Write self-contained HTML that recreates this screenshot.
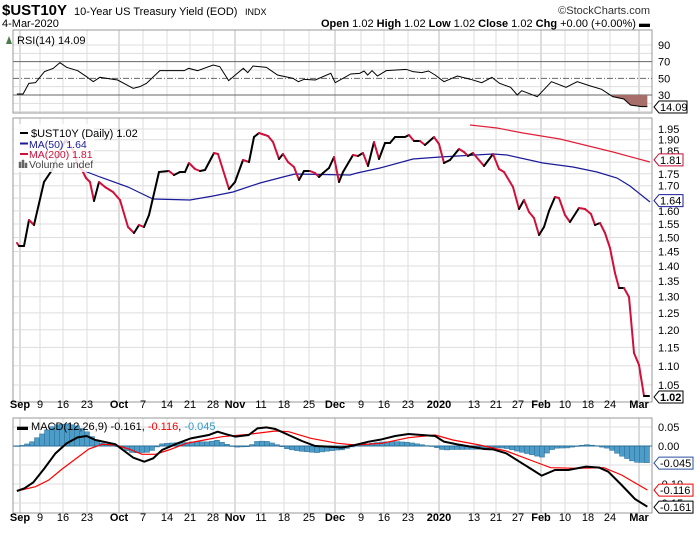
<!DOCTYPE html>
<html><head><meta charset="utf-8"><style>
body{margin:0;background:#fff;}
svg text{font-family:"Liberation Sans",sans-serif;}
</style></head><body>
<svg id="s" width="700" height="530" xmlns="http://www.w3.org/2000/svg">
<rect width="700" height="530" fill="#fff"/>
<g id="grid"></g>
<g id="content"></g>
<text x="2" y="15" font-size="15" font-weight="bold">$UST10Y</text>
<text x="74" y="15" font-size="11">10-Year US Treasury Yield (EOD)</text>
<text x="245" y="15" font-size="9">INDX</text>
<text x="650" y="14" font-size="11" text-anchor="end" fill="#333">©StockCharts.com</text>
<text x="2" y="27" font-size="11">4-Mar-2020</text>
<text x="650" y="27" font-size="11" text-anchor="end"><tspan font-weight="bold">Open</tspan> 1.02 <tspan font-weight="bold">High</tspan> 1.02 <tspan font-weight="bold">Low</tspan> 1.02 <tspan font-weight="bold">Close</tspan> 1.02 <tspan font-weight="bold">Chg</tspan> +0.00 (+0.00%) ▬</text>
</svg>
<script>
const NS="http://www.w3.org/2000/svg";
const G=document.getElementById('grid'),C=document.getElementById('content');
function el(p,t,a,txt){const e=document.createElementNS(NS,t);for(const k in a)e.setAttribute(k,a[k]);if(txt!==undefined)e.textContent=txt;p.appendChild(e);return e;}
const L=13,R=652;
const panels=[[30,113],[118,402],[418,513]];
const dates=[["Sep",20,1],["9",40],["16",63],["23",87],["Oct",119,1],["7",143],["14",167],["21",190],["28",213],["Nov",235,1],["11",261],["18",284],["25",309],["Dec",335,1],["9",361],["16",384],["23",408],["2020",439,1],["13",474],["21",496],["27",518],["Feb",541,1],["10",565],["18",588],["24",610],["Mar",639,1]];
panels.forEach(p=>{dates.forEach(d=>el(G,'line',{x1:d[1],x2:d[1],y1:p[0],y2:p[1],stroke:d[2]?'#bbb':'#ddd','stroke-width':1}));});
function ry(v){return 95-(v-30)*0.833;}
for(let v=10;v<=90;v+=10){if(v==30||v==50||v==70)continue;el(G,'line',{x1:L,x2:R,y1:ry(v),y2:ry(v),stroke:'#ddd'});}
[90,70,50,30].forEach(v=>el(G,'text',{x:658,y:ry(v)+4,'font-size':11},v));
function py(v){return 129+(Math.log(1.95)-Math.log(v))*413.6;}
for(let i=0;i<=18;i++){const v=1.05+i*0.05;el(G,'line',{x1:L,x2:R,y1:py(v),y2:py(v),stroke:'#ddd'});el(G,'text',{x:658,y:py(v)+4,'font-size':11},v.toFixed(2));}
function my(v){return 446-v*380;}
[0.05,0,-0.05,-0.1,-0.15].forEach(v=>{el(G,'line',{x1:L,x2:R,y1:my(v),y2:my(v),stroke:'#ddd'});});
el(G,'text',{x:658,y:my(0.05)+4,'font-size':11},'0.05');
el(G,'text',{x:658,y:my(0)+4,'font-size':11},'0.00');
el(G,'text',{x:658,y:my(-0.1)+4,'font-size':11},'-0.10');
el(G,'text',{x:658,y:my(-0.15)+4,'font-size':11},'-0.15');
panels.forEach(p=>el(G,'rect',{x:L,y:p[0],width:R-L,height:p[1]-p[0],fill:'none',stroke:'#999'}));
[408,521].forEach(y=>dates.forEach(d=>el(G,'text',{x:d[1],y:y,'font-size':11,'text-anchor':'middle','font-weight':d[2]?'bold':'normal'},d[0])));
el(G,'line',{x1:L,x2:R,y1:ry(70),y2:ry(70),stroke:'#666'});
el(G,'line',{x1:L,x2:R,y1:ry(30),y2:ry(30),stroke:'#666'});
el(G,'line',{x1:L,x2:R,y1:ry(50),y2:ry(50),stroke:'#666','stroke-dasharray':'6,2,1,2'});
const rsiZ=[[38,282],[52,282],[65,250],[80,248],[100,215],[120,205],[135,188],[150,202],[175,212],[195,230],[210,245],[225,232],[265,240],[300,265],[315,260],[330,250],[360,212],[415,212],[425,205],[445,212],[480,195],[495,200],[515,242],[530,225],[548,205],[558,218],[570,198],[600,202],[625,225],[660,235],[672,245],[685,238],[710,240],[745,220],[755,248],[790,222],[810,220],[820,213],[828,225],[838,212],[850,228],[870,212],[915,208],[930,215],[950,218],[965,213],[980,225],[1000,245],[1030,228],[1060,238],[1085,248],[1108,232],[1125,250],[1150,262],[1165,285],[1175,272],[1210,290],[1242,245],[1275,262],[1300,245],[1330,258],[1355,268],[1380,290],[1405,297],[1420,315],[1445,320],[1458,320]];
const rsi=rsiZ.map(p=>[p[0]*0.444,p[1]/3]);
let fp=rsi.filter(p=>p[0]>=610).map(p=>p.join(',')).join(' ');
el(C,'polygon',{points:'610,'+ry(30)+' '+fp+' '+rsi[rsi.length-1][0]+','+ry(30),fill:'#a86e6a'});
el(C,'polyline',{points:rsi.map(p=>p.join(',')).join(' '),fill:'none',stroke:'#000','stroke-width':1});
el(C,'text',{x:17,y:44,'font-size':11},'RSI(14) 14.09');
el(C,'path',{d:'M6 44 L9 36 L12 44 Z',fill:'#4a7a4a'});
const price=[[17,243],[19,246],[24,246],[29,220],[34,225],[44,182],[52,170],[60,150],[66,140],[72,148],[78,165],[82,170],[86,178],[90,182],[94,201],[99,182],[105,187],[113,192],[120,200],[128,227],[134,233],[139,225],[144,227],[149,215],[159,172],[169,171],[174,175],[180,172],[185,172],[189,163],[195,169],[200,171],[205,170],[214,153],[218,154],[229,189],[235,182],[243,160],[249,162],[254,137],[259,133],[268,136],[273,142],[279,159],[283,154],[288,162],[294,167],[299,180],[304,171],[310,171],[315,173],[319,177],[323,173],[329,168],[334,157],[339,182],[343,172],[353,155],[358,156],[363,153],[368,166],[374,142],[379,159],[385,143],[390,143],[395,137],[405,137],[409,135],[414,141],[420,141],[425,145],[434,137],[439,144],[444,163],[450,160],[459,149],[464,152],[468,156],[473,153],[484,166],[493,154],[499,169],[504,172],[513,187],[519,209],[524,200],[529,212],[534,218],[539,235],[544,227],[549,211],[555,197],[559,198],[565,215],[570,222],[579,208],[585,209],[591,214],[595,225],[600,223],[605,233],[610,248],[615,273],[619,288],[624,288],[629,297],[634,353],[639,365],[644,396],[649,396]];
const ma50=[[82,170],[100,177],[128,187],[153,199],[190,200],[213,196],[233,192],[260,183],[283,177],[295,174],[350,175],[357,173],[380,168],[413,159],[440,157],[493,154],[507,155],[543,163],[573,167],[597,172],[617,178],[630,186],[650,202]];
const ma200=[[470,125],[497,128],[523,133],[560,139],[613,152],[650,162]];
el(C,'polyline',{points:ma50.map(p=>p.join(',')).join(' '),fill:'none',stroke:'#1a1a9a','stroke-width':1.2});
el(C,'polyline',{points:ma200.map(p=>p.join(',')).join(' '),fill:'none',stroke:'#e0203a','stroke-width':1.2});
for(let i=1;i<price.length;i++){const a=price[i-1],b=price[i];el(C,'line',{x1:a[0],y1:a[1],x2:b[0],y2:b[1],stroke:b[1]>a[1]?'#d0103a':'#000','stroke-width':2,'stroke-linecap':'round'});}
el(C,'rect',{x:14,y:124,width:80,height:48,fill:'#fff','fill-opacity':0.85});
el(C,'line',{x1:20,x2:28,y1:133,y2:133,stroke:'#000','stroke-width':2});
el(C,'text',{x:31,y:137,'font-size':11},'$UST10Y (Daily) 1.02');
el(C,'line',{x1:20,x2:28,y1:143.5,y2:143.5,stroke:'#1a1a9a','stroke-width':2});
el(C,'text',{x:29,y:148,'font-size':10.5,fill:'#1a1a9a'},'MA(50) 1.64');
el(C,'line',{x1:20,x2:28,y1:154,y2:154,stroke:'#d0103a','stroke-width':2});
el(C,'text',{x:29,y:158,'font-size':10.5,fill:'#d0103a'},'MA(200) 1.81');
el(C,'path',{d:'M19 168 v-6 h2 v6 M22 168 v-8 h2 v8 M25 168 v-5 h2 v5',fill:'#666',stroke:'#666','stroke-width':0.5});
el(C,'text',{x:29,y:168,'font-size':10.5,fill:'#444'},'Volume undef');
const mZ=[[38,288],[55,280],[75,262],[100,220],[125,175],[150,145],[175,127],[195,123],[215,135],[240,142],[260,148],[280,168],[300,188],[325,200],[345,190],[365,165],[400,145],[430,130],[470,120],[490,110],[510,118],[530,125],[560,120],[580,100],[600,97],[620,102],[650,120],[680,138],[710,153],[740,155],[770,158],[800,150],[830,140],[860,133],[890,123],[920,117],[950,120],[980,123],[1000,140],[1030,148],[1060,155],[1090,162],[1110,163],[1140,175],[1170,200],[1200,225],[1220,242],[1250,225],[1280,225],[1320,215],[1350,218],[1370,230],[1400,270],[1430,312],[1458,335]];
const sZ=[[38,288],[80,275],[110,255],[140,222],[170,192],[200,162],[230,148],[260,150],[290,162],[320,178],[350,178],[380,165],[420,145],[460,135],[500,125],[560,118],[620,108],[650,110],[700,130],[760,145],[800,150],[860,145],[920,128],[980,120],[1020,135],[1080,150],[1140,168],[1200,198],[1240,218],[1300,220],[1360,218],[1400,240],[1458,285]];
const tr=p=>[p[0]*0.444,395+p[1]/3];
const M=mZ.map(tr),S=sZ.map(tr);
function interp(arr,x){for(let i=1;i<arr.length;i++){if(x<=arr[i][0]){const a=arr[i-1],b=arr[i];const t=(x-a[0])/(b[0]-a[0]);return a[1]+t*(b[1]-a[1]);}}return arr[arr.length-1][1];}
const z=my(0);
for(let x=17;x<=648;x+=5){const h=interp(M,x)-interp(S,x);const top=Math.min(z,z+h),ht=Math.abs(h);
el(C,'rect',{x:x-2.5,y:top,width:5,height:Math.max(ht,0.5),fill:'#4e9cc8',stroke:'#2a6f98','stroke-width':0.5});}
el(C,'line',{x1:L,x2:R,y1:z,y2:z,stroke:'#2a6f98','stroke-width':1});
el(C,'polyline',{points:S.map(p=>p.join(',')).join(' '),fill:'none',stroke:'#f00','stroke-width':1.2});
el(C,'polyline',{points:M.map(p=>p.join(',')).join(' '),fill:'none',stroke:'#000','stroke-width':2});
const mt=el(C,'text',{x:17,y:430,'font-size':11});
mt.innerHTML='<tspan font-weight="bold">▬</tspan> MACD(12,26,9) -0.161, <tspan fill="#f00">-0.116</tspan>, <tspan fill="#3399cc">-0.045</tspan>';
function tag(y,txt,col,bold,w){el(C,'path',{d:`M654 ${y} l5 -6 h${w} v12 h-${w} z`,fill:'#fff',stroke:col,'stroke-width':1});el(C,'text',{x:660,y:y+4,'font-size':11,'font-weight':bold?'bold':'normal'},txt);}
tag(py(1.81),'1.81','#c0103a',0,24);
tag(py(1.64),'1.64','#1a1a9a',0,24);
tag(py(1.02),'1.02','#000',1,24);
tag(107,'14.09','#000',0,28);
tag(my(-0.045),'-0.045','#2a4fa0',0,34);
tag(my(-0.116),'-0.116','#e00',0,34);
tag(my(-0.161),'-0.161','#000',0,34);
</script>
</body></html>
